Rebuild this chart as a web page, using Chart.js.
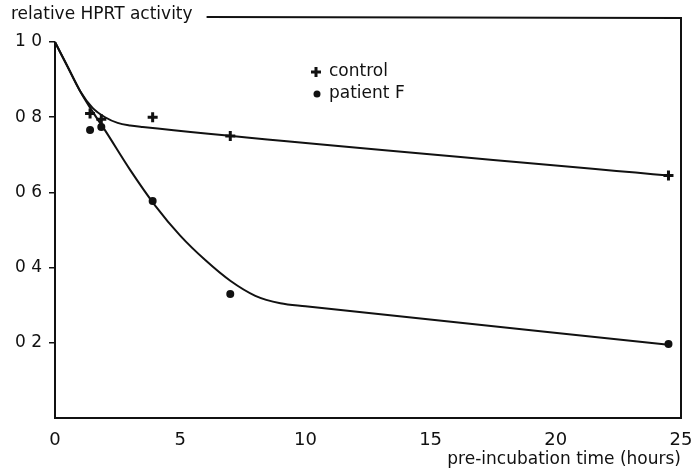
<!DOCTYPE html>
<html>
<head>
<meta charset="utf-8">
<script src="https://cdn.jsdelivr.net/npm/chart.js@4/dist/chart.umd.min.js"></script>
<style>
  html, body { margin: 0; padding: 0; background: #fff; }
  #wrap { width: 694px; height: 470px; }
</style>
</head>
<body>
<div id="wrap"><canvas id="hprt" width="694" height="470"></canvas></div>
<script>
// measured points
const controlHours = [1.4, 1.85, 3.9, 7, 24.5];
const controlActivity = [0.81, 0.795, 0.80, 0.75, 0.645];
const patientHours = [1.4, 1.85, 3.9, 7, 24.5];
const patientActivity = [0.766, 0.774, 0.577, 0.33, 0.197];

// fitted curves
const controlCurveHours = [0, 0.5, 1, 1.5, 2, 2.5, 3, 3.5, 24.5];
const controlCurveActivity = [1.0, 0.935, 0.87, 0.825, 0.80, 0.785, 0.778, 0.774, 0.645];
const patientCurveHours = [0, 0.5, 1, 1.5, 2, 3, 4, 5, 6, 7, 8, 9, 10, 24.5];
const patientCurveActivity = [1.0, 0.935, 0.87, 0.815, 0.765, 0.66, 0.565, 0.485, 0.42, 0.365, 0.325, 0.305, 0.297, 0.195];

const xTicks = [0, 5, 10, 15, 20, 25];
const yTickValues = [0.2, 0.4, 0.6, 0.8, 1.0];
const yTickLabels = ['0 2', '0 4', '0 6', '0 8', '1 0'];

const seriesNames = ['control', 'patient F'];
const yTitle = 'relative HPRT activity';
const xTitle = 'pre-incubation time (hours)';

const FONT = 'DejaVu Sans';
const ink = '#111';

const pts = (xs, ys) => xs.map((x, i) => ({ x: x, y: ys[i] }));

// frame, y title and the little key inside the plot
const decor = {
  id: 'decor',
  afterDraw(chart) {
    const { ctx, chartArea: a, scales } = chart;
    const y1 = scales.y.getPixelForValue(1.0);
    ctx.save();
    ctx.strokeStyle = ink;
    ctx.lineWidth = 2;
    ctx.font = '17px "' + FONT + '"';
    ctx.fillStyle = ink;
    ctx.textBaseline = 'middle';
    ctx.textAlign = 'left';
    ctx.fillText(yTitle, 11, a.top - 3);
    const tw = ctx.measureText(yTitle).width;

    ctx.beginPath();
    ctx.moveTo(11 + tw + 14, a.top - 1);
    ctx.lineTo(a.right, a.top);
    ctx.lineTo(a.right, a.bottom);
    ctx.moveTo(a.left, y1);
    ctx.lineTo(a.left, a.bottom);
    ctx.stroke();

    // key
    const kx = 316, ky = [72, 94];
    ctx.lineWidth = 3;
    ctx.beginPath();
    ctx.moveTo(kx - 5, ky[0]); ctx.lineTo(kx + 5, ky[0]);
    ctx.moveTo(kx, ky[0] - 5); ctx.lineTo(kx, ky[0] + 5);
    ctx.stroke();
    ctx.beginPath();
    ctx.arc(kx + 1, ky[1], 3.5, 0, Math.PI * 2);
    ctx.fill();
    ctx.fillText(seriesNames[0], 329, ky[0]);
    ctx.fillText(seriesNames[1], 329, ky[1]);
    ctx.restore();
  }
};

new Chart(document.getElementById('hprt'), {
  type: 'scatter',
  data: {
    datasets: [
      {
        label: seriesNames[0] + ' fit',
        data: pts(controlCurveHours, controlCurveActivity),
        showLine: true, borderColor: ink, borderWidth: 2,
        pointRadius: 0, cubicInterpolationMode: 'monotone'
      },
      {
        label: seriesNames[1] + ' fit',
        data: pts(patientCurveHours, patientCurveActivity),
        showLine: true, borderColor: ink, borderWidth: 2,
        pointRadius: 0, cubicInterpolationMode: 'monotone'
      },
      {
        label: seriesNames[0],
        data: pts(controlHours, controlActivity),
        pointStyle: 'cross', pointRadius: 5, borderWidth: 3,
        borderColor: ink, backgroundColor: ink
      },
      {
        label: seriesNames[1],
        data: pts(patientHours, patientActivity),
        pointStyle: 'circle', pointRadius: 4, borderWidth: 0,
        borderColor: ink, backgroundColor: ink
      }
    ]
  },
  options: {
    responsive: false,
    animation: false,
    layout: { padding: { top: 18, right: 0, left: 0, bottom: 0 } },
    plugins: { legend: { display: false }, tooltip: { enabled: false } },
    scales: {
      x: {
        type: 'linear', min: 0, max: 25,
        afterBuildTicks: s => { s.ticks = xTicks.map(v => ({ value: v })); },
        afterFit: s => { s.height = 52; s.paddingRight = 13; s.paddingLeft = 0; },
        grid: { display: false },
        border: { display: true, color: ink, width: 2 },
        ticks: { color: ink, padding: 4, font: { family: FONT, size: 18 } },
        title: {
          display: true, text: xTitle, align: 'end', color: ink,
          padding: { top: 0, bottom: 0 }, font: { family: FONT, size: 17 }
        }
      },
      y: {
        type: 'linear', min: 0, max: 1.064,
        afterBuildTicks: s => { s.ticks = yTickValues.map(v => ({ value: v })); },
        afterFit: s => { s.width = 55; },
        grid: { drawOnChartArea: false, drawTicks: true, tickLength: 6, color: ink, lineWidth: 1.5 },
        border: { display: false },
        ticks: {
          color: ink, padding: 7, font: { family: FONT, size: 17 },
          callback: (v) => { const i = yTickValues.indexOf(v); return i >= 0 ? yTickLabels[i] : ''; }
        }
      }
    }
  },
  plugins: [decor]
});
</script>
</body>
</html>
